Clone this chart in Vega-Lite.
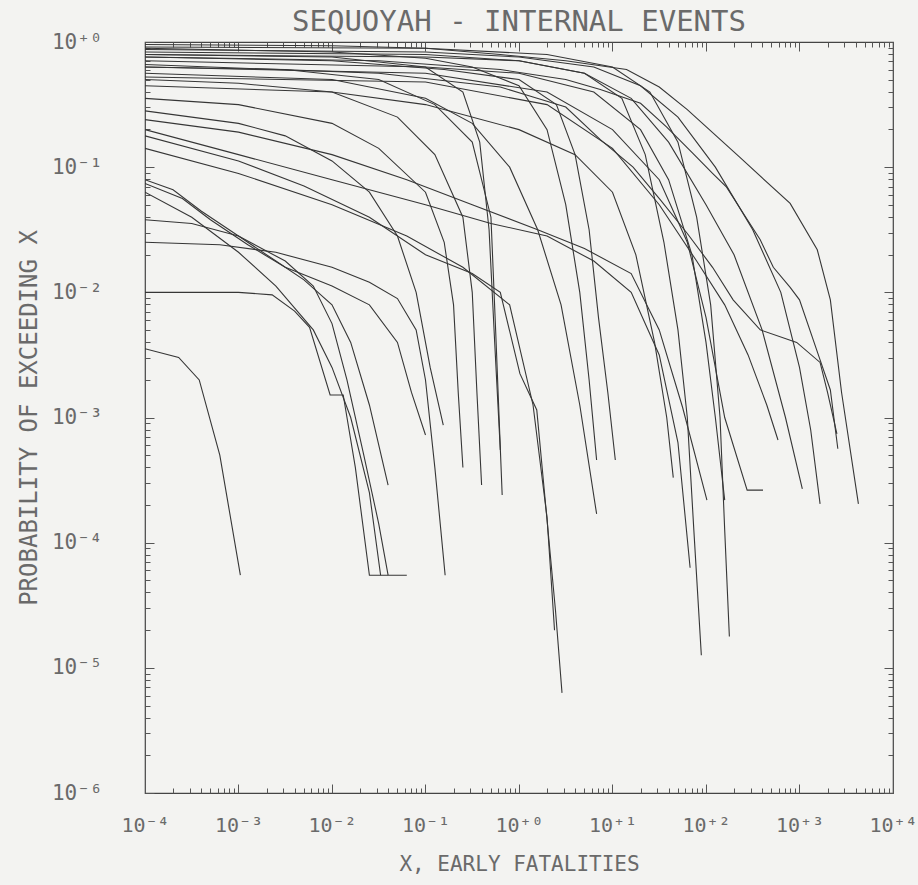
{
  "$schema": "https://vega.github.io/schema/vega-lite/v6.json",
  "autosize": {"type": "none"},
  "width": 748,
  "height": 751,
  "padding": {"left": 145, "top": 42, "right": 25, "bottom": 92},
  "background": "#f3f3f1",
  "config": {"view": {"stroke": "#444444", "strokeWidth": 1.2}, "font": "DejaVu Sans Mono"},
  "title": {"text": "SEQUOYAH - INTERNAL EVENTS", "font": "DejaVu Sans Mono", "fontSize": 29, "fontWeight": "normal", "color": "#6a6a6a", "offset": 8, "dy": 14},
  "datasets": {
    "curves": [
      {"c":"L1","x":0.0001,"y":0.003548},{"c":"L1","x":0.0002291,"y":0.00302},{"c":"L1","x":0.0003802,"y":0.001995},{"c":"L1","x":0.000631,"y":0.0005012},{"c":"L1","x":0.001047,"y":0.00005495},
      {"c":"L2","x":0.0001,"y":0.01},{"c":"L2","x":0.001,"y":0.01},{"c":"L2","x":0.002291,"y":0.00955},{"c":"L2","x":0.003981,"y":0.007079},{"c":"L2","x":0.005754,"y":0.005248},{"c":"L2","x":0.00955,"y":0.001514},{"c":"L2","x":0.01318,"y":0.001514},{"c":"L2","x":0.01778,"y":0.0003981},{"c":"L2","x":0.02512,"y":0.00005495},{"c":"L2","x":0.0631,"y":0.00005495},
      {"c":"L3","x":0.0001,"y":0.03802},{"c":"L3","x":0.0003162,"y":0.03548},{"c":"L3","x":0.001,"y":0.02818},{"c":"L3","x":0.003162,"y":0.01778},{"c":"L3","x":0.00631,"y":0.01122},{"c":"L3","x":0.01,"y":0.005623},{"c":"L3","x":0.01445,"y":0.001995},{"c":"L3","x":0.02188,"y":0.0005012},{"c":"L3","x":0.03162,"y":0.0001413},{"c":"L3","x":0.03981,"y":0.00005495},
      {"c":"L4","x":0.0001,"y":0.02512},{"c":"L4","x":0.000631,"y":0.02399},{"c":"L4","x":0.002512,"y":0.02089},{"c":"L4","x":0.01,"y":0.01585},{"c":"L4","x":0.02512,"y":0.01202},{"c":"L4","x":0.05012,"y":0.008913},{"c":"L4","x":0.07943,"y":0.005012},{"c":"L4","x":0.1,"y":0.001995},{"c":"L4","x":0.1259,"y":0.0003981},{"c":"L4","x":0.1622,"y":0.00005495},
      {"c":"L5","x":0.0001,"y":0.07943},{"c":"L5","x":0.0001995,"y":0.06607},{"c":"L5","x":0.0003981,"y":0.04467},{"c":"L5","x":0.001,"y":0.02818},{"c":"L5","x":0.002512,"y":0.01778},{"c":"L5","x":0.005012,"y":0.01259},{"c":"L5","x":0.01,"y":0.007943},{"c":"L5","x":0.01585,"y":0.003981},{"c":"L5","x":0.02512,"y":0.001259},{"c":"L5","x":0.03981,"y":0.0002884},
      {"c":"L6","x":0.0001,"y":0.07413},{"c":"L6","x":0.0002512,"y":0.05623},{"c":"L6","x":0.0005012,"y":0.03802},{"c":"L6","x":0.001259,"y":0.02399},{"c":"L6","x":0.003162,"y":0.01585},{"c":"L6","x":0.01,"y":0.01122},{"c":"L6","x":0.02512,"y":0.007943},{"c":"L6","x":0.05012,"y":0.003981},{"c":"L6","x":0.07079,"y":0.001585},{"c":"L6","x":0.1,"y":0.0007244},
      {"c":"L7","x":0.0001,"y":0.0631},{"c":"L7","x":0.0003162,"y":0.03981},{"c":"L7","x":0.001,"y":0.02089},{"c":"L7","x":0.002512,"y":0.01122},{"c":"L7","x":0.00631,"y":0.005012},{"c":"L7","x":0.01,"y":0.002512},{"c":"L7","x":0.01585,"y":0.001},{"c":"L7","x":0.02512,"y":0.0002512},{"c":"L7","x":0.03311,"y":0.00005495},
      {"c":"U1","x":0.0001,"y":0.2818},{"c":"U1","x":0.001,"y":0.2239},{"c":"U1","x":0.003162,"y":0.1778},{"c":"U1","x":0.01,"y":0.1122},{"c":"U1","x":0.02512,"y":0.0631},{"c":"U1","x":0.05012,"y":0.02818},{"c":"U1","x":0.07943,"y":0.01},{"c":"U1","x":0.1122,"y":0.002512},{"c":"U1","x":0.1549,"y":0.000871},
      {"c":"U2","x":0.0001,"y":0.3548},{"c":"U2","x":0.001,"y":0.3162},{"c":"U2","x":0.01,"y":0.2239},{"c":"U2","x":0.03162,"y":0.1413},{"c":"U2","x":0.1,"y":0.0631},{"c":"U2","x":0.1585,"y":0.02512},{"c":"U2","x":0.1995,"y":0.007943},{"c":"U2","x":0.2239,"y":0.001585},{"c":"U2","x":0.2512,"y":0.0003981},
      {"c":"U3","x":0.0001,"y":0.5012},{"c":"U3","x":0.001,"y":0.4677},{"c":"U3","x":0.01,"y":0.3981},{"c":"U3","x":0.05012,"y":0.2512},{"c":"U3","x":0.1259,"y":0.1259},{"c":"U3","x":0.2512,"y":0.03981},{"c":"U3","x":0.3162,"y":0.01},{"c":"U3","x":0.3548,"y":0.001585},{"c":"U3","x":0.3981,"y":0.0002884},
      {"c":"U4","x":0.0001,"y":0.631},{"c":"U4","x":0.003162,"y":0.6026},{"c":"U4","x":0.03162,"y":0.5012},{"c":"U4","x":0.1259,"y":0.3162},{"c":"U4","x":0.3162,"y":0.1585},{"c":"U4","x":0.5012,"y":0.03981},{"c":"U4","x":0.5623,"y":0.005012},{"c":"U4","x":0.6607,"y":0.0002399},
      {"c":"U5","x":0.0001,"y":0.7943},{"c":"U5","x":0.01,"y":0.7586},{"c":"U5","x":0.1,"y":0.631},{"c":"U5","x":0.2512,"y":0.3981},{"c":"U5","x":0.3802,"y":0.1585},{"c":"U5","x":0.4786,"y":0.03162},{"c":"U5","x":0.5495,"y":0.003981},{"c":"U5","x":0.631,"y":0.0005495},
      {"c":"M1","x":0.0001,"y":0.1995},{"c":"M1","x":0.001,"y":0.1259},{"c":"M1","x":0.01,"y":0.07943},{"c":"M1","x":0.1,"y":0.05012},{"c":"M1","x":0.5012,"y":0.03548},{"c":"M1","x":1.995,"y":0.02818},{"c":"M1","x":6.31,"y":0.01778},{"c":"M1","x":15.85,"y":0.01},{"c":"M1","x":31.62,"y":0.003162},{"c":"M1","x":50.12,"y":0.000631},{"c":"M1","x":67.61,"y":0.0000631},
      {"c":"M2","x":0.0001,"y":0.2399},{"c":"M2","x":0.001,"y":0.1905},{"c":"M2","x":0.01,"y":0.1259},{"c":"M2","x":0.0631,"y":0.07943},{"c":"M2","x":0.3162,"y":0.05012},{"c":"M2","x":1.585,"y":0.03162},{"c":"M2","x":5.012,"y":0.02239},{"c":"M2","x":15.85,"y":0.01413},{"c":"M2","x":31.62,"y":0.005012},{"c":"M2","x":56.23,"y":0.001202},{"c":"M2","x":102.3,"y":0.0002188},
      {"c":"M3","x":0.0001,"y":0.1778},{"c":"M3","x":0.001,"y":0.1122},{"c":"M3","x":0.005012,"y":0.07079},{"c":"M3","x":0.02512,"y":0.03981},{"c":"M3","x":0.1,"y":0.01995},{"c":"M3","x":0.3162,"y":0.01413},{"c":"M3","x":0.631,"y":0.01},{"c":"M3","x":1.023,"y":0.002239},{"c":"M3","x":1.549,"y":0.001148},{"c":"M3","x":2.455,"y":0.00002884},{"c":"M3","x":2.884,"y":0.00000631},
      {"c":"M4","x":0.0001,"y":0.1413},{"c":"M4","x":0.001,"y":0.08913},{"c":"M4","x":0.01,"y":0.05012},{"c":"M4","x":0.0631,"y":0.02818},{"c":"M4","x":0.2512,"y":0.01585},{"c":"M4","x":0.7943,"y":0.007943},{"c":"M4","x":1.413,"y":0.001259},{"c":"M4","x":1.995,"y":0.0001585},{"c":"M4","x":2.399,"y":0.00001995},
      {"c":"T1","x":0.0001,"y":0.8913},{"c":"T1","x":0.01,"y":0.8318},{"c":"T1","x":0.1,"y":0.7413},{"c":"T1","x":0.3162,"y":0.631},{"c":"T1","x":1,"y":0.4467},{"c":"T1","x":1.995,"y":0.1995},{"c":"T1","x":3.162,"y":0.05012},{"c":"T1","x":4.467,"y":0.01},{"c":"T1","x":5.623,"y":0.001995},{"c":"T1","x":6.761,"y":0.0004571},
      {"c":"T2","x":0.0001,"y":0.5623},{"c":"T2","x":0.01,"y":0.5012},{"c":"T2","x":0.1,"y":0.3548},{"c":"T2","x":0.3162,"y":0.2239},{"c":"T2","x":0.7943,"y":0.1},{"c":"T2","x":1.585,"y":0.03162},{"c":"T2","x":2.818,"y":0.007943},{"c":"T2","x":4.467,"y":0.001259},{"c":"T2","x":6.761,"y":0.0001698},
      {"c":"T3","x":0.0001,"y":0.7586},{"c":"T3","x":0.01,"y":0.7079},{"c":"T3","x":0.1585,"y":0.6026},{"c":"T3","x":1,"y":0.5012},{"c":"T3","x":2.512,"y":0.3162},{"c":"T3","x":3.981,"y":0.1259},{"c":"T3","x":5.623,"y":0.03162},{"c":"T3","x":7.079,"y":0.00631},{"c":"T3","x":8.913,"y":0.001585},{"c":"T3","x":10.72,"y":0.0004571},
      {"c":"T5","x":0.0001,"y":0.8318},{"c":"T5","x":0.1,"y":0.7943},{"c":"T5","x":1,"y":0.7079},{"c":"T5","x":5.012,"y":0.5623},{"c":"T5","x":12.59,"y":0.3548},{"c":"T5","x":22.39,"y":0.1259},{"c":"T5","x":35.48,"y":0.02512},{"c":"T5","x":50.12,"y":0.005012},{"c":"T5","x":63.1,"y":0.001},{"c":"T5","x":74.13,"y":0.0001259},{"c":"T5","x":89.13,"y":0.00001259},
      {"c":"T6","x":0.0001,"y":0.912},{"c":"T6","x":0.1,"y":0.8913},{"c":"T6","x":1.995,"y":0.7943},{"c":"T6","x":10,"y":0.631},{"c":"T6","x":25.12,"y":0.3981},{"c":"T6","x":50.12,"y":0.1585},{"c":"T6","x":79.43,"y":0.03981},{"c":"T6","x":112.2,"y":0.007943},{"c":"T6","x":141.3,"y":0.001},{"c":"T6","x":158.5,"y":0.0001259},{"c":"T6","x":177.8,"y":0.00001778},
      {"c":"T7","x":0.0001,"y":0.7079},{"c":"T7","x":0.1,"y":0.631},{"c":"T7","x":1,"y":0.5623},{"c":"T7","x":6.31,"y":0.3981},{"c":"T7","x":19.95,"y":0.1995},{"c":"T7","x":39.81,"y":0.07943},{"c":"T7","x":70.79,"y":0.01995},{"c":"T7","x":100,"y":0.003981},{"c":"T7","x":125.9,"y":0.001},{"c":"T7","x":158.5,"y":0.0002188},
      {"c":"T8","x":0.0001,"y":0.4467},{"c":"T8","x":0.01,"y":0.3981},{"c":"T8","x":0.1,"y":0.3162},{"c":"T8","x":1,"y":0.1995},{"c":"T8","x":3.981,"y":0.1259},{"c":"T8","x":10,"y":0.0631},{"c":"T8","x":17.78,"y":0.01995},{"c":"T8","x":28.18,"y":0.003981},{"c":"T8","x":38.02,"y":0.001},{"c":"T8","x":44.67,"y":0.0003311},
      {"c":"C1","x":0.0001,"y":0.955},{"c":"C1","x":0.01,"y":0.9333},{"c":"C1","x":0.1,"y":0.8913},{"c":"C1","x":0.631,"y":0.7943},{"c":"C1","x":3.162,"y":0.7079},{"c":"C1","x":14.13,"y":0.6026},{"c":"C1","x":31.62,"y":0.4365},{"c":"C1","x":63.1,"y":0.2884},{"c":"C1","x":229.1,"y":0.1202},{"c":"C1","x":794.3,"y":0.05129},{"c":"C1","x":1549,"y":0.02188},{"c":"C1","x":2138,"y":0.00871},{"c":"C1","x":2818,"y":0.001585},{"c":"C1","x":4266,"y":0.0002042},
      {"c":"C2","x":0.0001,"y":0.7586},{"c":"C2","x":0.03162,"y":0.7079},{"c":"C2","x":0.631,"y":0.6026},{"c":"C2","x":3.162,"y":0.5012},{"c":"C2","x":7.413,"y":0.4169},{"c":"C2","x":19.95,"y":0.3236},{"c":"C2","x":38.02,"y":0.2089},{"c":"C2","x":72.44,"y":0.1288},{"c":"C2","x":117.5,"y":0.08913},{"c":"C2","x":166,"y":0.06918},{"c":"C2","x":251.2,"y":0.04266},{"c":"C2","x":380.2,"y":0.0263},{"c":"C2","x":524.8,"y":0.01585},{"c":"C2","x":794.3,"y":0.01096},{"c":"C2","x":1000,"y":0.00871},{"c":"C2","x":1660,"y":0.002884},{"c":"C2","x":2138,"y":0.00166},{"c":"C2","x":2570,"y":0.0005623},
      {"c":"C3","x":0.0001,"y":0.6607},{"c":"C3","x":0.03162,"y":0.5623},{"c":"C3","x":0.631,"y":0.4365},{"c":"C3","x":1.413,"y":0.3631},{"c":"C3","x":3.162,"y":0.302},{"c":"C3","x":7.413,"y":0.166},{"c":"C3","x":16.6,"y":0.1},{"c":"C3","x":32.36,"y":0.05495},{"c":"C3","x":63.1,"y":0.02951},{"c":"C3","x":117.5,"y":0.01585},{"c":"C3","x":195,"y":0.00871},{"c":"C3","x":380.2,"y":0.005012},{"c":"C3","x":933.3,"y":0.003981},{"c":"C3","x":1660,"y":0.002754},{"c":"C3","x":1995,"y":0.001585},{"c":"C3","x":2512,"y":0.0007413},
      {"c":"C4","x":0.0001,"y":0.871},{"c":"C4","x":0.1,"y":0.8318},{"c":"C4","x":1,"y":0.7586},{"c":"C4","x":6.31,"y":0.631},{"c":"C4","x":19.95,"y":0.4467},{"c":"C4","x":50.12,"y":0.2512},{"c":"C4","x":125.9,"y":0.1},{"c":"C4","x":316.2,"y":0.03162},{"c":"C4","x":631,"y":0.01},{"c":"C4","x":1000,"y":0.002512},{"c":"C4","x":1318,"y":0.0007943},{"c":"C4","x":1660,"y":0.0002042},
      {"c":"C5","x":0.0001,"y":0.7943},{"c":"C5","x":0.1,"y":0.7586},{"c":"C5","x":1,"y":0.7079},{"c":"C5","x":5.012,"y":0.5623},{"c":"C5","x":15.85,"y":0.3548},{"c":"C5","x":39.81,"y":0.1585},{"c":"C5","x":100,"y":0.05012},{"c":"C5","x":199.5,"y":0.01995},{"c":"C5","x":398.1,"y":0.005012},{"c":"C5","x":707.9,"y":0.001},{"c":"C5","x":1072,"y":0.0002692},
      {"c":"C6","x":0.0001,"y":0.631},{"c":"C6","x":0.1,"y":0.5623},{"c":"C6","x":1.995,"y":0.3981},{"c":"C6","x":10,"y":0.1995},{"c":"C6","x":31.62,"y":0.07943},{"c":"C6","x":63.1,"y":0.02512},{"c":"C6","x":100,"y":0.00631},{"c":"C6","x":158.5,"y":0.001},{"c":"C6","x":275.4,"y":0.000263},{"c":"C6","x":407.4,"y":0.000263},
      {"c":"C7","x":0.0001,"y":0.5248},{"c":"C7","x":0.1,"y":0.4786},{"c":"C7","x":1.995,"y":0.3162},{"c":"C7","x":10,"y":0.1413},{"c":"C7","x":31.62,"y":0.05012},{"c":"C7","x":79.43,"y":0.01778},{"c":"C7","x":158.5,"y":0.007943},{"c":"C7","x":281.8,"y":0.003162},{"c":"C7","x":446.7,"y":0.001259},{"c":"C7","x":588.8,"y":0.0006607}
    ]
  },
  "data": {"name": "curves"},
  "layer": [
    {
      "mark": {"type": "line", "color": "#363636", "strokeWidth": 1.1, "clip": true},
      "encoding": {
        "x": {"field": "x", "type": "quantitative",
          "scale": {"type": "log", "domain": [0.0001, 10000], "nice": false},
          "axis": {"orient": "bottom", "title": "X, EARLY FATALITIES",
            "values": [0.0001,0.0002,0.0003,0.0004,0.0005,0.0006,0.0007,0.0008,0.0009,0.001,0.002,0.003,0.004,0.005,0.006,0.007,0.008,0.009,0.01,0.02,0.03,0.04,0.05,0.06,0.07,0.08,0.09,0.1,0.2,0.3,0.4,0.5,0.6,0.7,0.8,0.9,1,2,3,4,5,6,7,8,9,10,20,30,40,50,60,70,80,90,100,200,300,400,500,600,700,800,900,1000,2000,3000,4000,5000,6000,7000,8000,9000,10000],
            "labelExpr": "abs(log(datum.value)/LN10 - round(log(datum.value)/LN10)) < 0.01 ? '10' + (datum.value < 0.5 ? '⁻' : '⁺') + ['⁰','¹','²','³','⁴','⁵','⁶'][abs(round(log(datum.value)/LN10))] : ''",
            "labelOverlap": false, "labelFlush": false, "labelFont": "DejaVu Sans Mono", "labelFontSize": 20, "labelColor": "#6a6a6a", "labelPadding": 31,
            "tickColor": "#555555", "tickWidth": 1,
            "tickSize": {"condition": {"test": "abs(log(datum.value)/LN10 - round(log(datum.value)/LN10)) < 0.01", "value": -9}, "value": -5},
            "domain": false, "grid": false,
            "titleFont": "DejaVu Sans Mono", "titleFontSize": 21, "titleFontWeight": "normal", "titleColor": "#6a6a6a", "titlePadding": 14}
        },
        "y": {"field": "y", "type": "quantitative",
          "scale": {"type": "log", "domain": [0.000001, 1], "nice": false},
          "axis": {"orient": "left", "title": "PROBABILITY OF EXCEEDING X",
            "values": [0.000001,0.000002,0.000003,0.000004,0.000005,0.000006,0.000007,0.000008,0.000009,0.00001,0.00002,0.00003,0.00004,0.00005,0.00006,0.00007,0.00008,0.00009,0.0001,0.0002,0.0003,0.0004,0.0005,0.0006,0.0007,0.0008,0.0009,0.001,0.002,0.003,0.004,0.005,0.006,0.007,0.008,0.009,0.01,0.02,0.03,0.04,0.05,0.06,0.07,0.08,0.09,0.1,0.2,0.3,0.4,0.5,0.6,0.7,0.8,0.9,1],
            "labelExpr": "abs(log(datum.value)/LN10 - round(log(datum.value)/LN10)) < 0.01 ? '10' + (datum.value < 0.5 ? '⁻' : '⁺') + ['⁰','¹','²','³','⁴','⁵','⁶'][abs(round(log(datum.value)/LN10))] : ''",
            "labelOverlap": false, "labelFlush": false, "labelFont": "DejaVu Sans Mono", "labelFontSize": 21, "labelColor": "#6a6a6a", "labelPadding": 52,
            "tickColor": "#555555", "tickWidth": 1,
            "tickSize": {"condition": {"test": "abs(log(datum.value)/LN10 - round(log(datum.value)/LN10)) < 0.01", "value": -9}, "value": -5},
            "domain": false, "grid": false,
            "titleFont": "DejaVu Sans Mono", "titleFontSize": 24, "titleFontWeight": "normal", "titleColor": "#6a6a6a", "titlePadding": 10}
        },
        "detail": {"field": "c", "type": "nominal"}
      }
    },
    {
      "mark": {"type": "point", "opacity": 0},
      "encoding": {
        "x": {"field": "x", "type": "quantitative",
          "axis": {"orient": "top", "title": null, "labels": false, "domain": false, "grid": false,
            "values": [0.0001,0.0002,0.0003,0.0004,0.0005,0.0006,0.0007,0.0008,0.0009,0.001,0.002,0.003,0.004,0.005,0.006,0.007,0.008,0.009,0.01,0.02,0.03,0.04,0.05,0.06,0.07,0.08,0.09,0.1,0.2,0.3,0.4,0.5,0.6,0.7,0.8,0.9,1,2,3,4,5,6,7,8,9,10,20,30,40,50,60,70,80,90,100,200,300,400,500,600,700,800,900,1000,2000,3000,4000,5000,6000,7000,8000,9000,10000],
            "tickColor": "#555555", "tickWidth": 1,
            "tickSize": {"condition": {"test": "abs(log(datum.value)/LN10 - round(log(datum.value)/LN10)) < 0.01", "value": -9}, "value": -5}}
        },
        "y": {"field": "y", "type": "quantitative",
          "axis": {"orient": "right", "title": null, "labels": false, "domain": false, "grid": false,
            "values": [0.000001,0.000002,0.000003,0.000004,0.000005,0.000006,0.000007,0.000008,0.000009,0.00001,0.00002,0.00003,0.00004,0.00005,0.00006,0.00007,0.00008,0.00009,0.0001,0.0002,0.0003,0.0004,0.0005,0.0006,0.0007,0.0008,0.0009,0.001,0.002,0.003,0.004,0.005,0.006,0.007,0.008,0.009,0.01,0.02,0.03,0.04,0.05,0.06,0.07,0.08,0.09,0.1,0.2,0.3,0.4,0.5,0.6,0.7,0.8,0.9,1],
            "tickColor": "#555555", "tickWidth": 1,
            "tickSize": {"condition": {"test": "abs(log(datum.value)/LN10 - round(log(datum.value)/LN10)) < 0.01", "value": -9}, "value": -5}}
        }
      }
    }
  ],
  "resolve": {"axis": {"x": "independent", "y": "independent"}}
}
